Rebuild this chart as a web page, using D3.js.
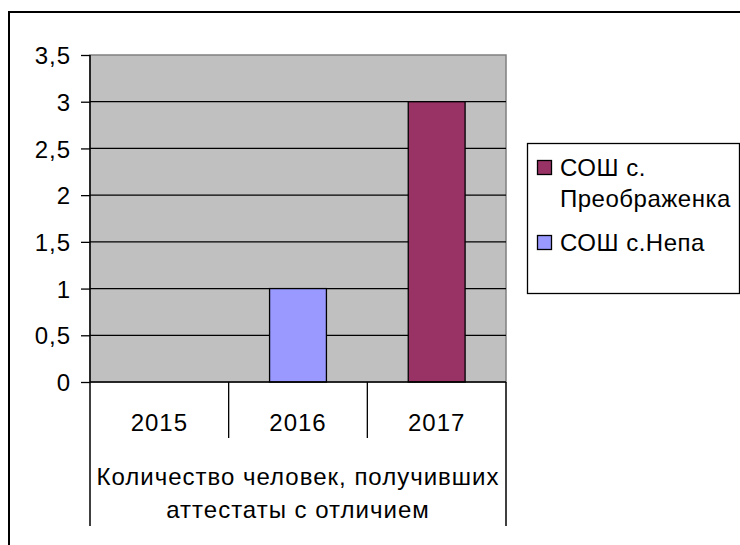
<!DOCTYPE html>
<html>
<head>
<meta charset="utf-8">
<script src="https://cdn.jsdelivr.net/npm/d3@7"></script>
<style>
    body { margin: 0; background: #fff; }
    text { font-family: "Liberation Sans", Arial, sans-serif; fill: #000; letter-spacing: 1px; }
    .legend text { letter-spacing: 0.5px; }
</style>
</head>
<body>
<div id="chart1"></div>
<script>
// data for plot
var years = ["2015", "2016", "2017"];
var seriesNames = ["СОШ с. Преображенка", "СОШ с.Непа"];
var valuesPreobr = [0, 0, 3];
var valuesNepa = [0, 1, 0];
var yTicks = [0, 0.5, 1, 1.5, 2, 2.5, 3, 3.5];
var groupLabel = ["Количество человек, получивших", "аттестаты с отличием"];

var param = {
    parentSelector: "#chart1",
    width: 740,
    height: 545,
    fontSize: "24px",
    series: [
        {name: seriesNames[0], values: valuesPreobr, color: "#993366"},
        {name: seriesNames[1], values: valuesNepa, color: "#9999ff"}
    ]
};

function d3sChart(param) {
    var selectedObj = d3.select(param.parentSelector);

    //---- plot area borders
    var plot = {left: 90, right: 506, top: 55, bottom: 382};

    var svg = selectedObj.append("svg")
        .attr("width", param.width).attr("height", param.height);

    // outer frame (cut off at right and bottom)
    svg.append("path")
        .attr("d", "M9," + param.height + "V12H" + (param.width + 5))
        .style("fill", "none").style("stroke", "#000").style("stroke-width", 2);

    var xScale = d3.scaleBand().domain(years).range([plot.left, plot.right]).paddingInner(0);
    var yScale = d3.scaleLinear().domain([0, 3.5]).range([plot.bottom, plot.top]);

    // grey background
    svg.append("rect")
        .attr("x", plot.left).attr("y", plot.top)
        .attr("width", plot.right - plot.left).attr("height", plot.bottom - plot.top)
        .style("fill", "#c0c0c0").style("stroke", "#808080").style("stroke-width", 1.5);

    // grid lines
    svg.append("g").selectAll("line").data(yTicks.slice(1, -1)).enter()
        .append("line")
        .attr("x1", plot.left).attr("x2", plot.right)
        .attr("y1", function(d) { return yScale(d); })
        .attr("y2", function(d) { return yScale(d); })
        .style("stroke", "#000").style("stroke-width", 1.3);

    // stacked bars
    var barW = xScale.bandwidth() * 0.41;
    var stackBase = years.map(function() { return 0; });
    param.series.forEach(function(s) {
        var cells = s.values.map(function(v, i) { return {year: years[i], v: v, base: stackBase[i]}; })
            .filter(function(c) { return c.v > 0; });
        svg.append("g").selectAll("rect").data(cells).enter()
            .append("rect")
            .attr("x", function(c) { return xScale(c.year) + xScale.bandwidth() / 2 - barW / 2; })
            .attr("y", function(c) { return yScale(c.base + c.v); })
            .attr("width", barW)
            .attr("height", function(c) { return yScale(c.base) - yScale(c.base + c.v); })
            .style("fill", s.color).style("stroke", "#000").style("stroke-width", 1.3);
        s.values.forEach(function(v, i) { stackBase[i] += v; });
    });

    //---- y axis
    var fmt = function(v) { return String(v).replace(".", ","); };
    var yAxis = d3.axisLeft(yScale).tickValues(yTicks).tickSize(9).tickPadding(10).tickFormat(fmt);
    var gy = svg.append("g").attr("transform", "translate(" + plot.left + ",0)").call(yAxis);
    gy.select(".domain").remove();
    gy.selectAll("line").style("stroke", "#000").style("stroke-width", 1.3);
    gy.selectAll("text").style("font-size", param.fontSize).attr("dy", "0.36em");
    svg.append("line").attr("x1", plot.left).attr("x2", plot.left)
        .attr("y1", plot.top).attr("y2", plot.bottom)
        .style("stroke", "#000").style("stroke-width", 1.5);
    svg.append("line").attr("x1", plot.left).attr("x2", plot.right)
        .attr("y1", plot.bottom).attr("y2", plot.bottom)
        .style("stroke", "#000").style("stroke-width", 1.5);

    //---- x axis: categories and group
    var xAxis = d3.axisBottom(xScale).tickSize(0).tickPadding(0);
    var gx = svg.append("g").attr("transform", "translate(0," + plot.bottom + ")").call(xAxis);
    gx.select(".domain").remove();
    gx.selectAll("text").style("font-size", param.fontSize).attr("y", 49).attr("dy", 0);

    // dividers between categories
    var inner = years.slice(1).map(function(y) { return xScale(y); });
    svg.append("g").selectAll("line").data(inner).enter()
        .append("line")
        .attr("x1", function(d) { return d; }).attr("x2", function(d) { return d; })
        .attr("y1", plot.bottom).attr("y2", 438)
        .style("stroke", "#000").style("stroke-width", 1.3);
    svg.append("g").selectAll("line").data(xScale.range()).enter()
        .append("line")
        .attr("x1", function(d) { return d; }).attr("x2", function(d) { return d; })
        .attr("y1", plot.bottom).attr("y2", 526)
        .style("stroke", "#000").style("stroke-width", 1.5);

    // group label
    svg.append("g").selectAll("text").data(groupLabel).enter()
        .append("text")
        .attr("x", (plot.left + plot.right) / 2)
        .attr("y", function(d, i) { return 485 + i * 33; })
        .attr("text-anchor", "middle").style("font-size", param.fontSize)
        .text(function(d) { return d; });

    //---- legend
    var legend = svg.append("g").attr("class", "legend");
    legend.append("rect").attr("x", 527.5).attr("y", 143.5).attr("width", 212).attr("height", 150)
        .style("fill", "#fff").style("stroke", "#000").style("stroke-width", 1.3);

    var legendRows = [
        {lines: ["СОШ с.", "Преображенка"], color: param.series[0].color, y: 160},
        {lines: ["СОШ с.Непа"], color: param.series[1].color, y: 235}
    ];
    legendRows.forEach(function(r) {
        legend.append("rect").attr("x", 537.5).attr("y", r.y + 0.5).attr("width", 14).attr("height", 14)
            .style("fill", r.color).style("stroke", "#000").style("stroke-width", 1.3);
        r.lines.forEach(function(t, k) {
            legend.append("text").attr("x", 560).attr("y", r.y + 16 + k * 31)
                .style("font-size", param.fontSize).text(t);
        });
    });
}

d3sChart(param);
</script>
</body>
</html>
